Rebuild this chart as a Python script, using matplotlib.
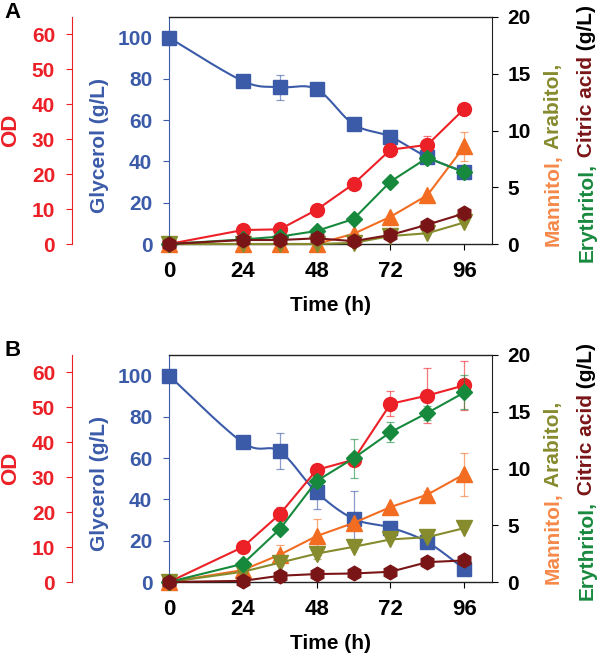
import matplotlib
matplotlib.use('Agg')
import matplotlib.pyplot as plt
import numpy as np

plt.rcParams['font.family'] = ['Liberation Sans', 'DejaVu Sans']
plt.rcParams['font.weight'] = 'bold'

# sampling times (h)
time_h = [0, 24, 36, 48, 60, 72, 84, 96]

# panel A
gly_a = [100, 79, 76, 75, 58, 52, 42, 35]
gly_a_err = [0, 0, 6, 0, 0, 0, 0, 1.5]
od_a = [0, 4.0, 4.2, 9.8, 17.2, 27.0, 28.4, 38.7]
od_a_err = [0, 0, 0, 0, 0, 1.2, 2.6, 0]
man_a = [0, 0, 0, 0, 0.9, 2.4, 4.3, 8.6]
man_a_err = [0, 0, 0, 0, 0, 0, 0, 1.3]
ara_a = [0, 0, 0, 0, 0.1, 0.7, 0.95, 1.9]
ara_a_err = [0, 0, 0, 0, 0, 0, 0, 0]
ery_a = [0, 0.4, 0.65, 1.15, 2.2, 5.5, 7.6, 6.3]
ery_a_err = [0, 0, 0, 0, 0, 0, 0.3, 0.4]
cit_a = [0, 0.35, 0.35, 0.5, 0.25, 0.8, 1.7, 2.7]
cit_a_err = [0, 0, 0, 0, 0, 0, 0, 0]

# panel B
gly_b = [100, 67.6, 63.3, 43.5, 30.6, 26.4, 19.3, 6.3]
gly_b_err = [0, 0, 8.7, 8, 13.7, 0, 2.5, 2.5]
od_b = [0, 10.0, 19.4, 32.1, 35.0, 51.0, 53.4, 56.3]
od_b_err = [0, 0, 2.0, 1.0, 0, 3.6, 7.8, 7.0]
man_b = [0, 1.05, 2.4, 4.05, 5.2, 6.6, 7.7, 9.5]
man_b_err = [0, 0, 0.9, 1.5, 0, 0, 0.3, 1.9]
ara_b = [0, 0.9, 1.7, 2.5, 3.1, 3.75, 3.95, 4.75]
ara_b_err = [0, 0, 0, 0.5, 0, 0, 0, 0]
ery_b = [0, 1.6, 4.65, 8.9, 10.9, 13.2, 14.9, 16.7]
ery_b_err = [0, 0, 0, 0.5, 1.7, 0.9, 0.6, 1.5]
cit_b = [0, 0.1, 0.55, 0.7, 0.75, 0.9, 1.75, 1.9]
cit_b_err = [0, 0, 0, 0, 0, 0, 0, 0]

x_ticks = [0, 24, 48, 72, 96]

C_GLY = '#3b5ba9'
C_OD = '#ec2027'
C_MAN = '#f26d22'
C_MAN_TXT = '#f5894a'
C_ARA = '#868b2e'
C_ERY = '#17893d'
C_CIT = '#7a1517'

W, H = 597, 657


def smooth_line(x, y, n=30):
    # excel-like smoothed line: catmull-rom written as bezier segments
    x = np.asarray(x, float)
    y = np.asarray(y, float)
    px = np.concatenate([[x[0]], x, [x[-1]]])
    py = np.concatenate([[y[0]], y, [y[-1]]])
    t = np.linspace(0, 1, n)
    xs, ys = [], []
    for i in range(len(x) - 1):
        p0 = np.array([px[i], py[i]])
        p1 = np.array([px[i + 1], py[i + 1]])
        p2 = np.array([px[i + 2], py[i + 2]])
        p3 = np.array([px[i + 3], py[i + 3]])
        c1 = p1 + (p2 - p0) / 6
        c2 = p2 - (p3 - p1) / 6
        pts = ((1 - t) ** 3)[:, None] * p1 + (3 * (1 - t) ** 2 * t)[:, None] * c1 \
            + (3 * (1 - t) * t ** 2)[:, None] * c2 + (t ** 3)[:, None] * p2
        xs.extend(pts[:, 0])
        ys.extend(pts[:, 1])
    return xs, ys


def series(ax, y, err, color, marker, ms, smooth=False):
    if smooth:
        sx, sy = smooth_line(time_h, y)
        ax.plot(sx, sy, color=color, lw=1.5, clip_on=False)
    else:
        ax.plot(time_h, y, color=color, lw=1.5, clip_on=False)
    ax.errorbar(time_h, y, yerr=err, fmt='none', ecolor=color, alpha=0.6,
                elinewidth=0.9, capsize=3, capthick=0.9)
    ax.plot(time_h, y, linestyle='none', marker=marker, ms=ms, color=color,
            mec=color, clip_on=False)


def draw_panel(fig, bottom_px, letter, data):
    gly, gly_err, od, od_err, man, man_err, ara, ara_err, ery, ery_err, cit, cit_err = data
    rect = [169 / W, (H - bottom_px) / H, 323 / W, 227 / H]
    ax = fig.add_axes(rect)
    ax_od = ax.twinx()
    ax_r = ax.twinx()

    # glycerol on main axis
    series(ax, gly, gly_err, C_GLY, 's', 9.6, smooth=True)
    ax.set_xlim(0, 105)
    ax.set_ylim(0, 110)
    ax.set_yticks([0, 20, 40, 60, 80, 100])
    ax.set_xticks(x_ticks)
    ax.tick_params(axis='y', colors=C_GLY, labelsize=15, direction='out', length=4, pad=8)
    ax.tick_params(axis='x', colors='black', labelsize=16, direction='out', length=4, pad=8)
    ax.spines['left'].set_color(C_GLY)
    ax.spines['right'].set_visible(False)
    for s in ['top', 'bottom']:
        ax.spines[s].set_color('#222222')
        ax.spines[s].set_linewidth(1.0)
    ax.text(-0.214, 0.436, 'Glycerol (g/L)', transform=ax.transAxes, rotation=90,
            ha='center', va='center', color=C_GLY, fontsize=15, fontweight='bold')
    ax.text(0.5, -0.27, 'Time (h)', transform=ax.transAxes, ha='center', va='center',
            fontsize=15, fontweight='bold')
    ax.text(-0.508, 1.066, letter, transform=ax.transAxes, ha='left', va='top',
            fontsize=16, fontweight='bold')

    # OD on an offset left axis
    series(ax_od, od, od_err, C_OD, 'o', 10)
    ax_od.set_ylim(0, 65)
    ax_od.set_yticks([0, 10, 20, 30, 40, 50, 60])
    ax_od.yaxis.tick_left()
    ax_od.spines['left'].set_position(('outward', 70))
    ax_od.spines['left'].set_visible(True)
    ax_od.spines['left'].set_color(C_OD)
    for s in ['top', 'bottom', 'right']:
        ax_od.spines[s].set_visible(False)
    ax_od.tick_params(axis='y', colors=C_OD, labelsize=15, direction='out', length=4, pad=8)
    ax_od.text(-0.489, 0.5, 'OD', transform=ax.transAxes, rotation=90,
               ha='center', va='center', color=C_OD, fontsize=16, fontweight='bold')

    # products on the right axis
    series(ax_r, man, man_err, C_MAN, '^', 11)
    series(ax_r, ara, ara_err, C_ARA, 'v', 11)
    series(ax_r, ery, ery_err, C_ERY, 'D', 8.6)
    series(ax_r, cit, cit_err, C_CIT, 'h', 10.5)
    ax_r.set_ylim(0, 20)
    ax_r.set_yticks([0, 5, 10, 15, 20])
    for s in ['top', 'bottom', 'left']:
        ax_r.spines[s].set_visible(False)
    ax_r.spines['right'].set_color('#222222')
    ax_r.tick_params(axis='y', colors='black', labelsize=15, direction='out', length=4, pad=7)

    # two-line multicoloured label on the right
    rows = [(1.189, -0.009, [('Mannitol,', C_MAN_TXT), (' Arabitol,', C_ARA)]),
            (1.294, -0.079, [('Erythritol,', C_ERY), (' Citric acid', C_CIT), (' (g/L)', 'black')])]
    for xr, yr, parts in rows:
        prev = ax_r.text(xr, yr, parts[0][0], transform=ax_r.transAxes, rotation=90,
                         ha='center', va='bottom', color=parts[0][1], fontsize=15,
                         fontweight='bold')
        for txt, col in parts[1:]:
            prev = ax_r.annotate(txt, xy=(0.5, 1), xycoords=prev, rotation=90,
                                 ha='center', va='bottom', color=col, fontsize=15,
                                 fontweight='bold', annotation_clip=False)
    return ax


if __name__ == '__main__':
    fig = plt.figure(figsize=(W / 100, H / 100), dpi=100)
    draw_panel(fig, 244, 'A', (gly_a, gly_a_err, od_a, od_a_err, man_a, man_a_err,
                               ara_a, ara_a_err, ery_a, ery_a_err, cit_a, cit_a_err))
    draw_panel(fig, 582, 'B', (gly_b, gly_b_err, od_b, od_b_err, man_b, man_b_err,
                               ara_b, ara_b_err, ery_b, ery_b_err, cit_b, cit_b_err))
    fig.savefig('out.png', dpi=100)
